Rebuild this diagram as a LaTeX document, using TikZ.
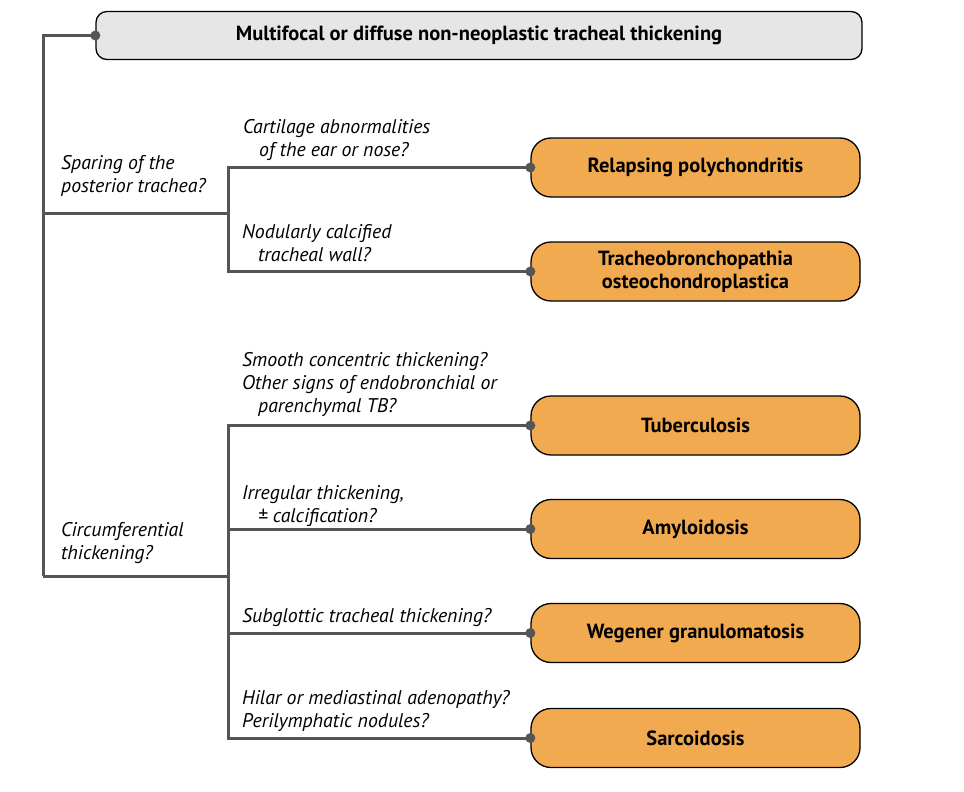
\documentclass[tikz,border=0pt]{standalone}
\usepackage{fontspec}
\setmainfont{PT Sans}
\definecolor{leaforange}{HTML}{F2AA50}
\definecolor{topgray}{HTML}{E6E6E6}
\definecolor{linegray}{HTML}{555555}
\tikzset{
  topbox/.style={draw=black, line width=1.3pt, fill=topgray, rounded corners=11pt,
    minimum width=766pt, minimum height=48pt, inner sep=0pt,
    font=\fontsize{20.5}{23}\selectfont\bfseries},
  leafbox/.style={draw=black, line width=1.3pt, fill=leaforange, rounded corners=20pt,
    minimum width=329pt, minimum height=59pt, inner sep=0pt, align=center,
    font=\fontsize{20.5}{23}\selectfont\bfseries},
  qlabel/.style={anchor=north west, inner sep=0pt, align=left,
    font=\fontsize{19.8}{23}\selectfont\itshape},
  conn/.style={draw=linegray, line width=3pt},
  dot/.style={fill=linegray, draw=none}
}
\begin{document}
\begin{tikzpicture}[x=1pt,y=-1pt]
\useasboundingbox (0,0) rectangle (964,792);
% boxes
\node[topbox] (top) at (479,35.5) {Multifocal or diffuse non-neoplastic tracheal thickening};
\node[leafbox] (rp) at (695.5,167.5) {Relapsing polychondritis};
\node[leafbox] (to) at (695.5,271.5) {Tracheobronchopathia\\osteochondroplastica};
\node[leafbox] (tb) at (695.5,425.5) {Tuberculosis};
\node[leafbox] (am) at (695.5,529) {Amyloidosis};
\node[leafbox] (wg) at (695.5,633) {Wegener granulomatosis};
\node[leafbox] (sa) at (695.5,738) {Sarcoidosis};
% junctions
\coordinate (ta) at (43,213);
\coordinate (tbk) at (43,576);
\coordinate (b1) at (228,213);
\coordinate (b2) at (228,576);
% connectors
\draw[conn] (top.west) -| (tbk);
\draw[conn] (ta) -- (b1);
\draw[conn] (tbk) -- (b2);
\draw[conn] (rp.west) -| (b1) |- (to.west);
\draw[conn] (tb.west) -| (b2);
\draw[conn] (sa.west) -| (b2);
\draw[conn] (am.west) -- (am.west -| b2);
\draw[conn] (wg.west) -- (wg.west -| b2);
% dots
\foreach \n in {top,rp,to,tb,am,wg,sa}
  \fill[dot] (\n.west) circle (5pt);
% labels
\node[qlabel] (l1) at (61,155) {Sparing of the\\posterior trachea?};
\node[qlabel] (l2) at (243,119) {Cartilage abnormalities\\\hspace*{16pt}of the ear or nose?};
\node[qlabel] (l3) at (242,224) {Nodularly calcified\\\hspace*{16pt}tracheal wall?};
\node[qlabel] (l4) at (242,352) {Smooth concentric thickening?\\Other signs of endobronchial or\\\hspace*{16pt}parenchymal TB?};
\node[qlabel] (l5) at (242,485) {Irregular thickening,\\\hspace*{16pt}± calcification?};
\node[qlabel] (l6) at (61,522) {Circumferential\\thickening?};
\node[qlabel] (l7) at (242,608) {Subglottic tracheal thickening?};
\node[qlabel] (l8) at (242,690) {Hilar or mediastinal adenopathy?\\Perilymphatic nodules?};
\end{tikzpicture}
\end{document}
